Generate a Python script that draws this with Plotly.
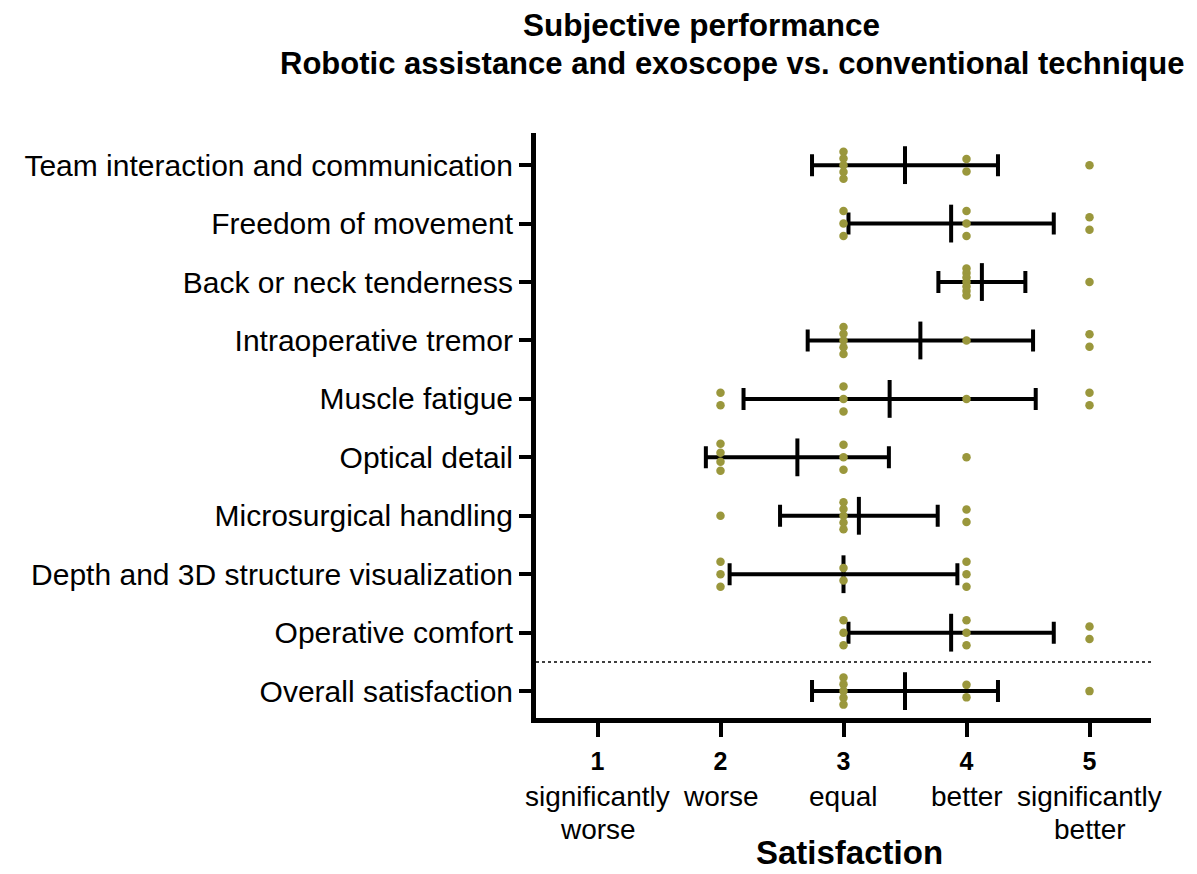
import numpy as np
import plotly.graph_objects as go

# ---------------- data ----------------
items = [
    "Team interaction and communication",
    "Freedom of movement",
    "Back or neck tenderness",
    "Intraoperative tremor",
    "Muscle fatigue",
    "Optical detail",
    "Microsurgical handling",
    "Depth and 3D structure visualization",
    "Operative comfort",
    "Overall satisfaction",
]

team_interaction = [3, 3, 3, 3, 3, 4, 4, 5]
freedom_of_movement = [3, 3, 3, 4, 4, 4, 5, 5]
back_neck_tenderness = [4, 4, 4, 4, 4, 4, 4, 5]
intraoperative_tremor = [3, 3, 3, 3, 3, 4, 5, 5]
muscle_fatigue = [2, 2, 3, 3, 3, 4, 5, 5]
optical_detail = [2, 2, 2, 2, 3, 3, 3, 4]
microsurgical_handling = [2, 3, 3, 3, 3, 3, 4, 4]
depth_3d_visualization = [2, 2, 2, 3, 3, 4, 4, 4]
operative_comfort = [3, 3, 3, 4, 4, 4, 5, 5]
overall_satisfaction = [3, 3, 3, 3, 3, 4, 4, 5]

responses = [
    team_interaction, freedom_of_movement, back_neck_tenderness,
    intraoperative_tremor, muscle_fatigue, optical_detail,
    microsurgical_handling, depth_3d_visualization, operative_comfort,
    overall_satisfaction,
]

tick_values = [1, 2, 3, 4, 5]
tick_numbers = ["1", "2", "3", "4", "5"]
tick_descriptions = [
    ["significantly", "worse"],
    ["worse"],
    ["equal"],
    ["better"],
    ["significantly", "better"],
]

title_line1 = "Subjective performance"
title_line2 = "Robotic assistance and exoscope vs. conventional technique"
x_title = "Satisfaction"

# ---------------- layout constants ----------------
PAGE_OFF = 8                       # browser body margin
W, H = 1197 - PAGE_OFF, 874 - PAGE_OFF
PLOT_L, PLOT_R, PLOT_T, PLOT_B = 536, 1151, 133, 718   # in page pixels
M_L, M_R = PLOT_L - PAGE_OFF, W - (PLOT_R - PAGE_OFF)
M_T, M_B = PLOT_T - PAGE_OFF, H - (PLOT_B - PAGE_OFF)
PLOT_W = W - M_L - M_R
PLOT_H = H - M_T - M_B
Y_RANGE = [0.54, 10.55]
PX_PER_Y = PLOT_H / (Y_RANGE[1] - Y_RANGE[0])
DOT_COLOR = "#9a973c"
FONT = "Liberation Sans, Arial, sans-serif"

n_items = len(items)
row_pos = [n_items - i for i in range(n_items)]  # top row highest

# scatter dot positions (stacked vertically for identical values)
dot_x, dot_y = [], []
for pos, vals in zip(row_pos, responses):
    vals = np.array(vals)
    for v in np.unique(vals):
        n = int((vals == v).sum())
        spacing_px = 12.5 if n <= 3 else 27.0 / (n - 1)
        offs = (np.arange(n) - (n - 1) / 2) * spacing_px
        for o in offs:
            dot_x.append(float(v))
            dot_y.append(pos - o / PX_PER_Y)

means = [float(np.mean(v)) for v in responses]
sds = [float(np.std(v, ddof=1)) for v in responses]

fig = go.Figure()

# mean +/- SD
fig.add_trace(go.Scatter(
    x=means, y=row_pos, mode="markers",
    marker=dict(symbol="line-ns", size=27, color="black",
                line=dict(width=4, color="black")),
    error_x=dict(type="data", array=sds, symmetric=True,
                 thickness=4, width=11, color="black"),
    showlegend=False, hoverinfo="skip",
))

# individual responses
fig.add_trace(go.Scatter(
    x=dot_x, y=dot_y, mode="markers",
    marker=dict(size=8.5, color=DOT_COLOR, line=dict(width=0)),
    showlegend=False,
))

# dotted separator between items and overall satisfaction
fig.add_shape(type="line", xref="x", yref="y",
              x0=0.5, x1=5.5, y0=1.5, y1=1.5,
              line=dict(color="black", width=1.5, dash="dot"))


def py_to_paper(py):
    return (H - M_B - (py - PAGE_OFF)) / PLOT_H


def px_to_paper(px):
    return (px - PAGE_OFF - M_L) / PLOT_W


annotations = []
# tick descriptions under numbers
for tv, desc in zip(tick_values, tick_descriptions):
    for j, line in enumerate(desc):
        annotations.append(dict(
            x=tv, xref="x", y=py_to_paper(796 + 33 * j), yref="paper",
            text=line, showarrow=False, xanchor="center", yanchor="middle",
            font=dict(size=28, color="black", family=FONT),
        ))
# x axis title
annotations.append(dict(
    x=px_to_paper(849), xref="paper", y=py_to_paper(873), yref="paper",
    text=f"<b>{x_title}</b>", showarrow=False, xanchor="center", yanchor="bottom",
    font=dict(size=33, color="black", family=FONT),
))
# chart title (two lines)
annotations.append(dict(
    x=px_to_paper(521), xref="paper", y=py_to_paper(25), yref="paper",
    text=f"<b>{title_line1}</b>", showarrow=False, xanchor="left", yanchor="middle",
    font=dict(size=31.5, color="black", family=FONT),
))
annotations.append(dict(
    x=px_to_paper(1186), xref="paper", y=py_to_paper(64), yref="paper",
    text=f"<b>{title_line2}</b>", showarrow=False, xanchor="right", yanchor="middle",
    font=dict(size=31, color="black", family=FONT),
))

fig.update_layout(
    width=W, height=H,
    margin=dict(l=M_L, r=M_R, t=M_T, b=M_B, pad=0, autoexpand=False),
    paper_bgcolor="white", plot_bgcolor="white",
    font=dict(family=FONT, color="black"),
    annotations=annotations,
    showlegend=False,
)
fig.update_xaxes(
    range=[0.5, 5.5], tickvals=tick_values,
    ticktext=[f"<b>{t}</b>" for t in tick_numbers],
    tickfont=dict(size=25, family=FONT, color="black"),
    ticks="outside", ticklen=14, tickwidth=4, tickcolor="black",
    showline=True, linewidth=5, linecolor="black", automargin=False,
    showgrid=False, zeroline=False, ticklabelstandoff=3,
)
fig.update_yaxes(
    range=Y_RANGE, tickvals=row_pos, ticktext=items,
    tickfont=dict(size=30, family=FONT, color="black"),
    ticks="outside", ticklen=12, tickwidth=4, tickcolor="black",
    showline=True, linewidth=5, linecolor="black", automargin=False,
    showgrid=False, zeroline=False, ticklabelstandoff=0,
)

fig.write_html("out.html")
